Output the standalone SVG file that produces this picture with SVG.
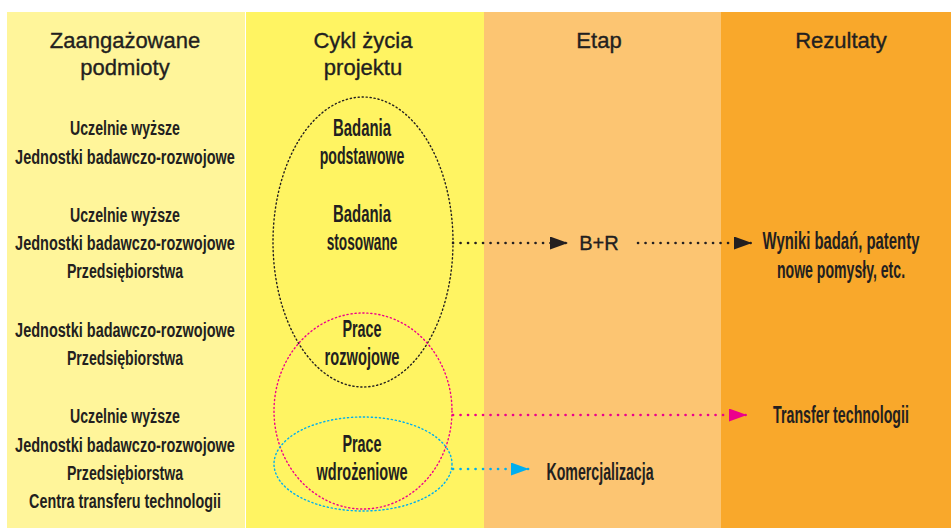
<svg xmlns="http://www.w3.org/2000/svg" width="951" height="528" viewBox="0 0 951 528">
<style>
.hd{font-family:"Liberation Sans",Arial,sans-serif;font-size:22px;fill:#231F20;stroke:#231F20;stroke-width:0.35;text-anchor:middle}
.t1{font-family:"Liberation Sans",Arial,sans-serif;font-size:21px;font-weight:bold;fill:#231F20;text-anchor:middle}
.t2{font-family:"Liberation Sans",Arial,sans-serif;font-size:23px;font-weight:bold;fill:#231F20;text-anchor:middle}
.el{fill:none;stroke-width:1.4;stroke-dasharray:1.2 2.8;stroke-linecap:round}
.cn{fill:none;stroke-width:2.6;stroke-dasharray:0.1 7.4;stroke-linecap:round}
</style>
<defs>
<marker id="ahK" markerUnits="userSpaceOnUse" markerWidth="19" markerHeight="14" refX="18" refY="6.5" orient="auto"><path d="M0,0 L18,6.5 L0,13 z" fill="#231F20"/></marker>
<marker id="ahP" markerUnits="userSpaceOnUse" markerWidth="19" markerHeight="14" refX="18" refY="6.5" orient="auto"><path d="M0,0 L18,6.5 L0,13 z" fill="#EC008C"/></marker>
<marker id="ahB" markerUnits="userSpaceOnUse" markerWidth="19" markerHeight="14" refX="18" refY="6.5" orient="auto"><path d="M0,0 L18,6.5 L0,13 z" fill="#00AEEF"/></marker>
</defs>
<rect width="951" height="528" fill="#FFFFFF"/>
<g id="columns">
<rect x="7" y="12" width="238" height="516" fill="#FFF59A"/>
<rect x="246" y="12" width="238" height="516" fill="#FFF462"/>
<rect x="484" y="12" width="237" height="516" fill="#FCC572"/>
<rect x="721" y="12" width="230" height="516" fill="#F9A82B"/>
</g>
<g id="headers">
<text class="hd" x="125" y="48">Zaangażowane</text>
<text class="hd" x="125" y="75">podmioty</text>
<text class="hd" x="363" y="48">Cykl życia</text>
<text class="hd" x="363" y="75">projektu</text>
<text class="hd" x="599" y="48">Etap</text>
<text class="hd" x="841" y="48">Rezultaty</text>
</g>
<g id="actors1">
<text class="t1" transform="translate(125,135) scale(0.7,1)" textLength="157" lengthAdjust="spacingAndGlyphs">Uczelnie wyższe</text>
<text class="t1" transform="translate(125,164) scale(0.7,1)" textLength="314" lengthAdjust="spacingAndGlyphs">Jednostki badawczo-rozwojowe</text>
</g>
<g id="actors2">
<text class="t1" transform="translate(125,222) scale(0.7,1)" textLength="157" lengthAdjust="spacingAndGlyphs">Uczelnie wyższe</text>
<text class="t1" transform="translate(125,250) scale(0.7,1)" textLength="314" lengthAdjust="spacingAndGlyphs">Jednostki badawczo-rozwojowe</text>
<text class="t1" transform="translate(125,278) scale(0.7,1)" textLength="166" lengthAdjust="spacingAndGlyphs">Przedsiębiorstwa</text>
</g>
<g id="actors3">
<text class="t1" transform="translate(125,337) scale(0.7,1)" textLength="314" lengthAdjust="spacingAndGlyphs">Jednostki badawczo-rozwojowe</text>
<text class="t1" transform="translate(125,365) scale(0.7,1)" textLength="166" lengthAdjust="spacingAndGlyphs">Przedsiębiorstwa</text>
</g>
<g id="actors4">
<text class="t1" transform="translate(125,423) scale(0.7,1)" textLength="157" lengthAdjust="spacingAndGlyphs">Uczelnie wyższe</text>
<text class="t1" transform="translate(125,452) scale(0.7,1)" textLength="314" lengthAdjust="spacingAndGlyphs">Jednostki badawczo-rozwojowe</text>
<text class="t1" transform="translate(125,480) scale(0.7,1)" textLength="166" lengthAdjust="spacingAndGlyphs">Przedsiębiorstwa</text>
<text class="t1" transform="translate(125,508) scale(0.7,1)" textLength="274" lengthAdjust="spacingAndGlyphs">Centra transferu technologii</text>
</g>
<g id="research">
<ellipse class="el" cx="363" cy="242" rx="90" ry="145" stroke="#231F20"/>
<text class="t2" transform="translate(362,136) scale(0.7,1)" textLength="83" lengthAdjust="spacingAndGlyphs">Badania</text>
<text class="t2" transform="translate(362,164) scale(0.7,1)" textLength="121" lengthAdjust="spacingAndGlyphs">podstawowe</text>
<text class="t2" transform="translate(362,222) scale(0.7,1)" textLength="83" lengthAdjust="spacingAndGlyphs">Badania</text>
<text class="t2" transform="translate(362,250) scale(0.7,1)" textLength="101" lengthAdjust="spacingAndGlyphs">stosowane</text>
</g>
<g id="development">
<ellipse class="el" cx="363" cy="411" rx="89" ry="98" stroke="#EC008C"/>
<text class="t2" transform="translate(362,337) scale(0.7,1)" textLength="56" lengthAdjust="spacingAndGlyphs">Prace</text>
<text class="t2" transform="translate(362,365) scale(0.7,1)" textLength="107" lengthAdjust="spacingAndGlyphs">rozwojowe</text>
</g>
<g id="implementation">
<ellipse class="el" cx="363" cy="464" rx="89" ry="47" stroke="#00AEEF"/>
<text class="t2" transform="translate(362,452) scale(0.7,1)" textLength="56" lengthAdjust="spacingAndGlyphs">Prace</text>
<text class="t2" transform="translate(362,480) scale(0.7,1)" textLength="130" lengthAdjust="spacingAndGlyphs">wdrożeniowe</text>
</g>
<g id="br">
<text class="hd" x="599" y="250" style="font-size:20px">B+R</text>
</g>
<g id="results">
<text class="t2" transform="translate(841,249) scale(0.7,1)" textLength="224" lengthAdjust="spacingAndGlyphs">Wyniki badań, patenty</text>
<text class="t2" transform="translate(841,278) scale(0.7,1)" textLength="183" lengthAdjust="spacingAndGlyphs">nowe pomysły, etc.</text>
</g>
<g id="transfer">
<text class="t2" transform="translate(841,423) scale(0.7,1)" textLength="194" lengthAdjust="spacingAndGlyphs">Transfer technologii</text>
</g>
<g id="commercialization">
<text class="t2" transform="translate(600,480) scale(0.7,1)" textLength="153" lengthAdjust="spacingAndGlyphs">Komercjalizacja</text>
</g>
<g id="connectors">
<line class="cn" x1="453" y1="243" x2="568" y2="243" stroke="#231F20" marker-end="url(#ahK)"/>
<line class="cn" x1="638" y1="243" x2="752" y2="243" stroke="#231F20" marker-end="url(#ahK)"/>
<line class="cn" x1="453" y1="415" x2="747" y2="415" stroke="#EC008C" marker-end="url(#ahP)"/>
<line class="cn" x1="453" y1="469" x2="529" y2="469" stroke="#00AEEF" marker-end="url(#ahB)"/>
</g>
</svg>
